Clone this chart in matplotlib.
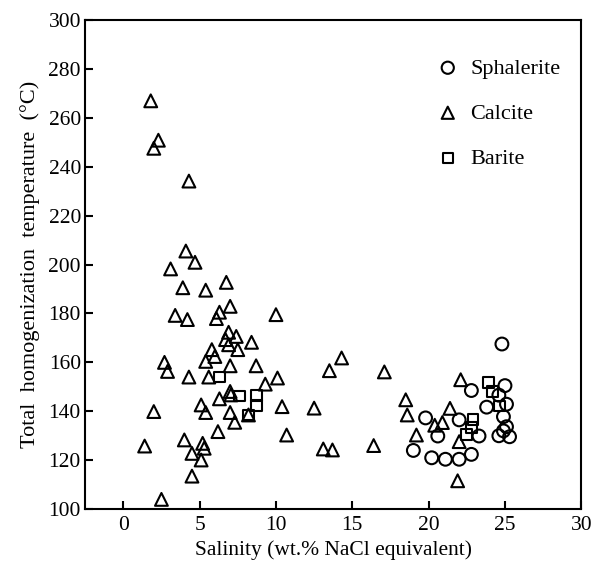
import matplotlib
matplotlib.use("Agg")
import matplotlib.pyplot as plt

plt.rcParams['font.family'] = ['Liberation Serif', 'DejaVu Serif']

# salinity (wt.% NaCl eq.) and homogenization temperature (°C)
sph_x = [24.8, 22.8, 25.0, 24.6, 23.8, 25.1, 24.9, 25.1, 24.6, 24.9, 25.3,
         19.8, 20.6, 19.0, 22.0, 23.3, 20.2, 21.1, 22.0, 22.8]
sph_y = [167.5, 148.5, 150.5, 146.6, 141.7, 142.9, 137.8, 133.7, 130.0, 132.0, 129.6,
         137.3, 129.9, 124.0, 136.5, 129.9, 121.0, 120.4, 120.4, 122.4]

cal_x = [1.8, 2.3, 2.0, 4.3, 4.1, 4.7, 3.1, 3.9, 5.4, 6.75, 3.4, 4.2, 6.3, 6.1, 7.0,
         10.0, 6.9, 7.4, 6.7, 6.9, 7.5, 8.4, 5.8, 6.0, 5.4, 7.0, 8.7, 2.7, 2.9, 4.3,
         5.6, 9.3, 10.1, 7.0, 7.05, 6.3, 5.1, 5.4, 7.0, 7.3, 8.2, 10.4, 2.0, 6.2, 10.7,
         1.4, 4.0, 5.2, 5.3, 4.5, 5.1, 4.5, 2.5,
         14.3, 13.5, 17.1, 12.5, 13.1, 13.7, 16.4, 18.5, 18.6, 19.2,
         20.4, 20.9, 21.4, 22.1, 22.0, 21.9]
cal_y = [266.9, 250.8, 247.5, 234.1, 205.5, 200.9, 198.2, 190.5, 189.5, 192.7, 179.2,
         177.5, 180.5, 177.9, 182.9, 179.5, 172.3, 170.6, 169.3, 167.2, 165.2, 168.2,
         165.2, 162.4, 160.4, 158.6, 158.6, 160.0, 156.3, 154.0, 154.0, 151.1, 153.6,
         148.1, 146.7, 145.1, 142.6, 139.5, 139.5, 135.5, 138.5, 141.9, 139.9, 131.7,
         130.3, 125.8, 128.3, 126.9, 124.9, 122.8, 120.1, 113.5, 104.0,
         161.8, 156.6, 156.1, 141.3, 124.6, 124.2, 126.0, 144.7, 138.5, 130.3,
         134.3, 135.4, 141.2, 152.9, 127.6, 111.6]

bar_x = [6.3, 7.6, 8.75, 8.75, 8.2, 23.9, 24.2, 24.65, 22.9, 22.8, 22.5]
bar_y = [154.0, 146.3, 146.4, 142.3, 138.5, 151.9, 148.1, 142.2, 136.8, 133.5, 130.6]

fig = plt.figure(figsize=(5.95, 5.67), dpi=100)
ax = fig.add_axes([0.143, 0.102, 0.834, 0.863])

kw = dict(facecolors='none', edgecolors='black', linewidths=1.5)
ax.scatter(sph_x, sph_y, marker='o', s=85, label='Sphalerite', **kw)
ax.scatter(cal_x, cal_y, marker='^', s=85, label='Calcite', **kw)
ax.scatter(bar_x, bar_y, marker='s', s=60, label='Barite', **kw)

ax.set_xlim(-2.5, 30)
ax.set_ylim(100, 300)
ax.set_xticks(range(0, 31, 5))
ax.set_yticks(range(100, 301, 20))
ax.tick_params(direction='in', length=6, width=1.5, labelsize=15.5)
ax.tick_params(axis='x', pad=5)
ax.tick_params(axis='y', pad=3)
for s in ax.spines.values():
    s.set_linewidth(1.5)

ax.set_xlabel('Salinity (wt.% NaCl equivalent)', fontsize=15.5, labelpad=4)
ax.set_ylabel('Total  homogenization  temperature  (°C)', fontsize=16, labelpad=6)

ax.legend(loc='upper left', frameon=False, fontsize=16, labelspacing=1.1,
          handletextpad=0.42, handlelength=1.2, markerscale=0.95,
          bbox_to_anchor=(0.704, 0.922), borderaxespad=0, borderpad=0)

fig.savefig('out.png', dpi=100)
